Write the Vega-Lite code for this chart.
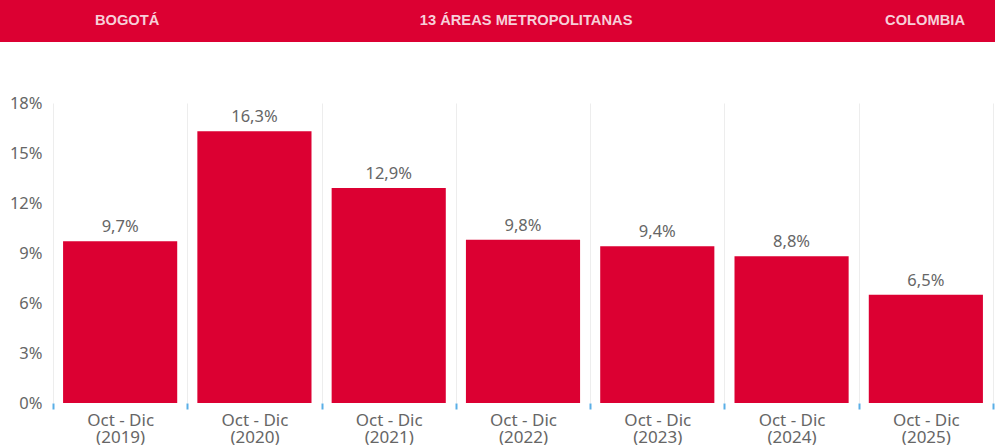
{
  "$schema": "https://vega.github.io/schema/vega-lite/v6.json",
  "background": "white",
  "padding": 0,
  "autosize": {"type": "pad"},
  "config": {
    "locale": {"number": {"decimal": ",", "thousands": ".", "grouping": [3], "currency": ["$", ""]}},
    "view": {"stroke": null},
    "concat": {"spacing": 53}
  },
  "datasets": {
    "tabs": [
      {"tab": "BOGOTÁ", "activa": true},
      {"tab": "13 ÁREAS METROPOLITANAS", "activa": false},
      {"tab": "COLOMBIA", "activa": false}
    ],
    "desempleo": [
      {"anio": "2019", "tasa": 0.097},
      {"anio": "2020", "tasa": 0.163},
      {"anio": "2021", "tasa": 0.129},
      {"anio": "2022", "tasa": 0.098},
      {"anio": "2023", "tasa": 0.094},
      {"anio": "2024", "tasa": 0.088},
      {"anio": "2025", "tasa": 0.065}
    ]
  },
  "vconcat": [
    {
      "width": 995,
      "height": 42,
      "view": {"fill": "#DC0032", "stroke": null},
      "data": {"name": "tabs"},
      "mark": {"type": "text", "font": "Liberation Sans", "fontWeight": "bold", "fontSize": 14.7, "color": "#F7CFD9"},
      "encoding": {
        "x": {
          "field": "tab", "type": "nominal", "sort": null,
          "scale": {"type": "point", "padding": 0.247, "align": 0.645},
          "axis": null
        },
        "text": {"field": "tab"}
      }
    },
    {
      "width": 995,
      "height": 300,
      "data": {"name": "desempleo"},
      "layer": [
        {
          "mark": {"type": "bar", "color": "#DC0032", "width": {"band": 0.85}},
          "encoding": {
            "x": {
              "field": "anio", "type": "ordinal",
              "scale": {"paddingInner": 0, "paddingOuter": 0.2048, "align": 0.9636},
              "axis": {
                "title": null, "domain": false, "grid": true, "gridColor": "#EDEDED",
                "tickBand": "extent",
                "ticks": true, "tickColor": "#5AAFE6", "tickSize": 6, "tickWidth": 2,
                "labelAngle": 0, "labelFont": "Noto Sans", "labelFontSize": 17, "labelColor": "#666666",
                "labelLineHeight": 17, "labelPadding": 3,
                "labelExpr": "datum.label ? ['Oct - Dic', '(' + datum.label + ')'] : ''"
              }
            },
            "y": {
              "field": "tasa", "type": "quantitative",
              "scale": {"domain": [0, 0.18], "nice": false},
              "axis": {
                "title": null, "domain": false, "ticks": false, "grid": false,
                "values": [0, 0.03, 0.06, 0.09, 0.12, 0.15, 0.18], "format": ".0%",
                "labelFont": "Noto Sans", "labelFontSize": 16.5, "labelColor": "#666666",
                "labelAlign": "right", "labelPadding": -42
              }
            }
          }
        },
        {
          "mark": {"type": "text", "baseline": "alphabetic", "dy": -9, "font": "Noto Sans", "fontSize": 16.5, "color": "#666666"},
          "encoding": {
            "x": {"field": "anio", "type": "ordinal"},
            "y": {"field": "tasa", "type": "quantitative"},
            "text": {"field": "tasa", "type": "quantitative", "format": ".1%"}
          }
        }
      ]
    }
  ]
}
